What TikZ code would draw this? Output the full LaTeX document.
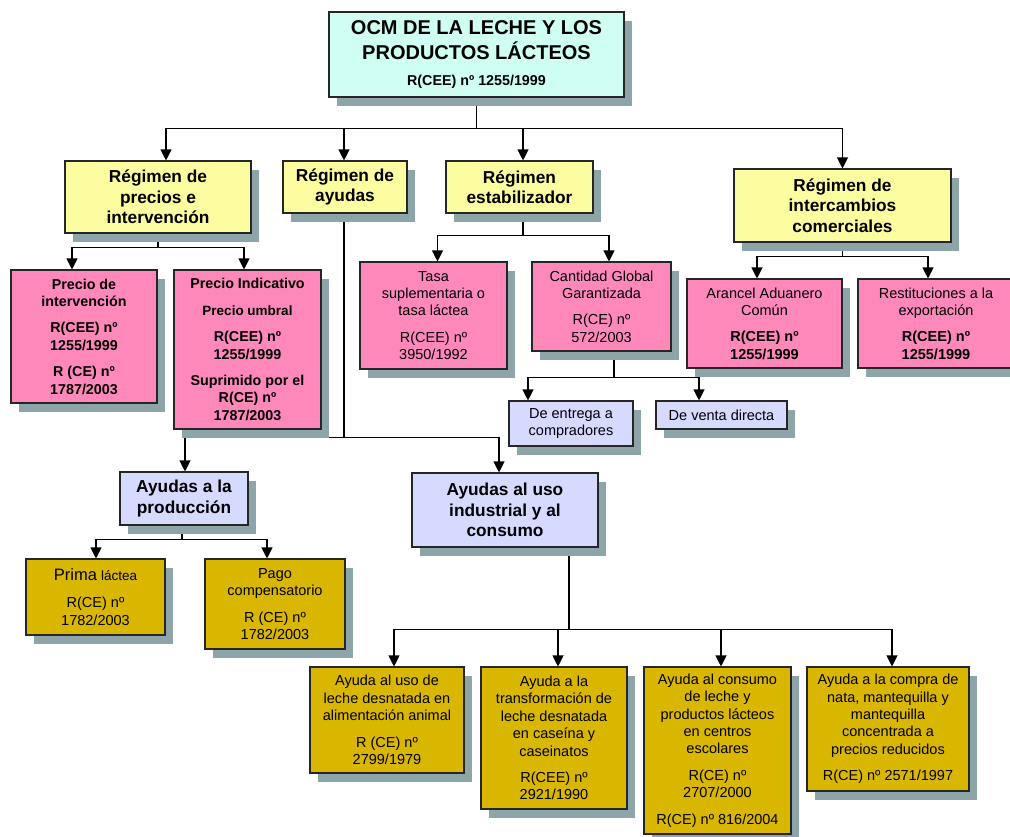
\documentclass[tikz,border=0pt]{standalone}
\usepackage{fontspec}
\setmainfont{Liberation Sans}
\usetikzlibrary{arrows.meta,shadows}
\definecolor{cyanc}{RGB}{206,255,242}
\definecolor{yelc}{RGB}{252,252,160}
\definecolor{pinkc}{RGB}{255,136,187}
\definecolor{lavc}{RGB}{214,218,255}
\definecolor{goldc}{RGB}{217,182,0}
\definecolor{shadc}{RGB}{141,164,168}
\pgfdeclarelayer{bg}
\pgfsetlayers{bg,main}
\tikzset{
  box/.style={draw=black!85, line width=1.1pt, align=center, inner sep=0pt,
    drop shadow={shadow xshift=8pt, shadow yshift=-9pt, fill=shadc, opacity=1, draw=none}},
  topbox/.style={box, fill=cyanc, font=\fontsize{20}{25}\bfseries\selectfont},
  yelbox/.style={box, fill=yelc, font=\fontsize{17.3}{20.5}\bfseries\selectfont},
  lavbold/.style={box, fill=lavc, font=\fontsize{17.3}{20.5}\bfseries\selectfont},
  lavbox/.style={box, fill=lavc, font=\fontsize{14.5}{17.4}\selectfont},
  pinkbold/.style={box, fill=pinkc, font=\fontsize{14.3}{17.4}\bfseries\selectfont},
  pinkbox/.style={box, fill=pinkc, font=\fontsize{14.5}{17.4}\selectfont},
  goldbox/.style={box, fill=goldc, font=\fontsize{14.5}{17.4}\selectfont},
  ln/.style={line width=1.1pt, draw=black},
  arr/.style={ln, -{Triangle[width=11pt,length=11pt]}}
}
\begin{document}
\begin{tikzpicture}[x=1pt,y=-1pt]
\useasboundingbox (0,0) rectangle (1010,836);
% level 0
\node[topbox, minimum width=295pt, minimum height=85pt] (top) at (476.5,54.5)
  {OCM DE LA LECHE Y LOS\\PRODUCTOS LÁCTEOS\\[1pt]{\fontsize{14.3}{17}\selectfont R(CEE) nº 1255/1999}};
% level 1
\node[yelbox, minimum width=186pt, minimum height=72pt] (precios) at (158,197) {Régimen de\\precios e\\intervención};
\node[yelbox, minimum width=124pt, minimum height=52pt] (ayudas) at (345,187) {Régimen de\\ayudas};
\node[yelbox, minimum width=147pt, minimum height=52pt] (estab) at (519.5,187) {Régimen\\estabilizador};
\node[yelbox, minimum width=217pt, minimum height=73pt] (inter) at (842.5,205.5) {Régimen de\\intercambios\\comerciales};
% level 2
\node[pinkbold, minimum width=146pt, minimum height=133pt] (pint) at (84,336.5)
  {Precio de\\intervención\\[9pt]R(CEE) nº\\1255/1999\\[9pt]R (CE) nº\\1787/2003};
\node[pinkbold, minimum width=147pt, minimum height=159pt] (pind) at (247.5,349.5)
  {Precio Indicativo\\[9pt]{\fontsize{13.5}{17.4}\selectfont Precio umbral}\\[9pt]R(CEE) nº\\1255/1999\\[9pt]Suprimido por el\\R(CE) nº\\1787/2003};
\node[pinkbox, minimum width=147pt, minimum height=107pt] (tasa) at (433.5,315.5)
  {Tasa\\suplementaria o\\tasa láctea\\[9pt]R(CEE) nº\\3950/1992};
\node[pinkbox, minimum width=139pt, minimum height=89pt] (cant) at (601.5,306.5)
  {Cantidad Global\\Garantizada\\[9pt]R(CE) nº\\572/2003};
\node[pinkbox, minimum width=155pt, minimum height=89pt] (aran) at (764.5,323.5)
  {Arancel Aduanero\\Común\\[9pt]{\bfseries R(CEE) nº}\\{\bfseries 1255/1999}};
\node[pinkbox, minimum width=156pt, minimum height=89pt] (rest) at (936,323.5)
  {Restituciones a la\\exportación\\[9pt]{\bfseries R(CEE) nº}\\{\bfseries 1255/1999}};
% level 3
\node[lavbox, minimum width=124pt, minimum height=45pt] (entrega) at (571,423.5) {De entrega a\\compradores};
\node[lavbox, minimum width=131pt, minimum height=28pt] (venta) at (721.5,415) {De venta directa};
\node[lavbold, minimum width=128pt, minimum height=53pt] (prod) at (184,498.5) {Ayudas a la\\producción};
\node[lavbold, minimum width=186pt, minimum height=74pt] (indus) at (505,510) {Ayudas al uso\\industrial y al\\consumo};
% level 4
\node[goldbox, minimum width=139pt, minimum height=76pt] (prima) at (95.5,597)
  {{\fontsize{16.5}{17.4}\selectfont Prima} {\fontsize{13.5}{17.4}\selectfont láctea}\\[10pt]R(CE) nº\\1782/2003};
\node[goldbox, minimum width=140pt, minimum height=90pt] (pago) at (275,604)
  {Pago\\compensatorio\\[9pt]R (CE) nº\\1782/2003};
\node[goldbox, minimum width=154pt, minimum height=106pt] (b1) at (387,720)
  {Ayuda al uso de\\leche desnatada en\\alimentación animal\\[9pt]R (CE) nº\\2799/1979};
\node[goldbox, minimum width=146pt, minimum height=142pt] (b2) at (554,738)
  {Ayuda a la\\transformación de\\leche desnatada\\en caseína y\\caseinatos\\[9pt]R(CEE) nº\\2921/1990};
\node[goldbox, minimum width=147pt, minimum height=167pt] (b3) at (717.5,750.5)
  {Ayuda al consumo\\de leche y\\productos lácteos\\en centros\\escolares\\[9pt]R(CE) nº\\2707/2000\\[9pt]R(CE) nº 816/2004};
\node[goldbox, minimum width=162pt, minimum height=124pt] (b4) at (888,729)
  {Ayuda a la compra de\\nata, mantequilla y\\mantequilla\\concentrada a\\precios reducidos\\[9pt]R(CE) nº 2571/1997};
% connectors
\begin{pgfonlayer}{bg}
\draw[ln] (top.south) -- ++(0,31) coordinate (j0);
\draw[arr] (j0) -| ([xshift=8pt]precios.north);
\draw[arr] (j0) -| ([xshift=-1pt]ayudas.north);
\draw[arr] (j0) -| ([xshift=3.5pt]estab.north);
\draw[arr] (j0) -| (inter.north);

\draw[ln] (precios.south) -- ++(0,14) coordinate (j1);
\draw[arr] (j1) -| ([xshift=-12pt]pint.north);
\draw[arr] (j1) -| ([xshift=-3.5pt]pind.north);

\draw[ln] ([xshift=-1pt]ayudas.south) -- ++(0,224) coordinate (j2);
\draw[arr] (j2) -| ([xshift=1pt]prod.north);
\draw[arr] (j2) -| ([xshift=-6pt]indus.north);

\draw[ln] ([xshift=3.5pt]estab.south) -- ++(0,22) coordinate (j3);
\draw[arr] (j3) -| ([xshift=4pt]tasa.north);
\draw[arr] (j3) -| ([xshift=7.5pt]cant.north);

\draw[ln] (inter.south) -- ++(0,14) coordinate (j4);
\draw[arr] (j4) -| ([xshift=-7.5pt]aran.north);
\draw[arr] (j4) -| ([xshift=-8pt]rest.north);

\draw[ln] ([xshift=12.5pt]cant.south) -- ++(0,26) coordinate (j5);
\draw[arr] (j5) -| ([xshift=-43pt]entrega.north);
\draw[arr] (j5) -| ([xshift=-22.5pt]venta.north);

\draw[ln] ([xshift=-2pt]prod.south) -- ++(0,14) coordinate (j6);
\draw[arr] (j6) -| ([xshift=0.5pt]prima.north);
\draw[arr] (j6) -| ([xshift=-8pt]pago.north);

\draw[ln] ([xshift=64pt]indus.south) -- ++(0,82) coordinate (j7);
\draw[arr] (j7) -| ([xshift=7pt]b1.north);
\draw[arr] (j7) -| ([xshift=4pt]b2.north);
\draw[arr] (j7) -| ([xshift=3.5pt]b3.north);
\draw[arr] (j7) -| ([xshift=4pt]b4.north);
\end{pgfonlayer}
\end{tikzpicture}
\end{document}
